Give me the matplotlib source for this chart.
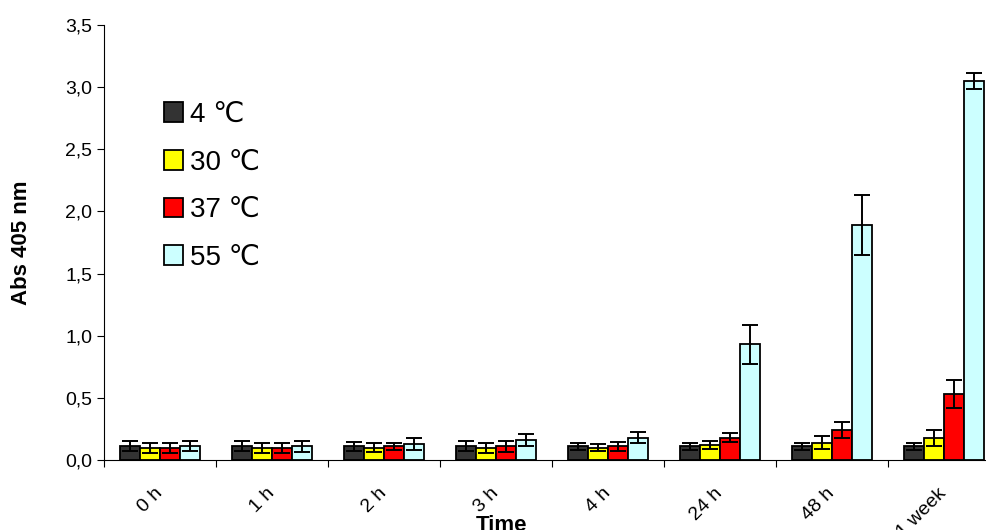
import numpy as np
import matplotlib.pyplot as plt
import matplotlib.transforms as mtrans

plt.rcParams['font.family'] = ['Liberation Sans', 'DejaVu Sans']

# data
times = ['0 h', '1 h', '2 h', '3 h', '4 h', '24 h', '48 h', '1 week']
temps = ['4 \u2103', '30 \u2103', '37 \u2103', '55 \u2103']
colors = ['#333333', '#ffff00', '#ff0000', '#ccffff']

abs_4 = [0.11, 0.11, 0.11, 0.11, 0.11, 0.11, 0.11, 0.11]
abs_30 = [0.10, 0.10, 0.10, 0.10, 0.10, 0.12, 0.14, 0.18]
abs_37 = [0.10, 0.10, 0.11, 0.11, 0.11, 0.18, 0.24, 0.53]
abs_55 = [0.11, 0.11, 0.13, 0.16, 0.18, 0.93, 1.89, 3.05]

err_4 = [0.04, 0.04, 0.035, 0.04, 0.03, 0.03, 0.03, 0.03]
err_30 = [0.04, 0.04, 0.035, 0.04, 0.03, 0.035, 0.05, 0.065]
err_37 = [0.04, 0.04, 0.03, 0.045, 0.035, 0.035, 0.065, 0.11]
err_55 = [0.04, 0.045, 0.05, 0.05, 0.045, 0.16, 0.24, 0.065]

series = [abs_4, abs_30, abs_37, abs_55]
errors = [err_4, err_30, err_37, err_55]

fig = plt.figure(figsize=(9.87, 5.30), dpi=100)
ax = fig.add_axes([104 / 987, 70 / 530, 896 / 987, 435 / 530])

x = np.arange(len(times))
w = 0.18
for i, (vals, errs) in enumerate(zip(series, errors)):
    pos = x + (i - 1.5) * w
    ax.bar(pos, vals, w, color=colors[i], edgecolor='black', linewidth=1.3,
           label=temps[i], zorder=2)
    ax.errorbar(pos, vals, yerr=errs, fmt='none', ecolor='black',
                elinewidth=1.4, capsize=6, capthick=1.4, zorder=3)

ax.set_xlim(-0.5, len(times) - 0.5)
ax.set_ylim(0, 3.5)
yt = np.arange(0, 3.51, 0.5)
ax.set_yticks(yt)
ax.set_yticklabels([f'{v:.1f}'.replace('.', ',') for v in yt], fontsize=14)

ax.set_xticks(np.arange(-0.5, len(times), 1.0))
ax.set_xticklabels([])
ax.set_xticks(x, minor=True)
ax.set_xticklabels(times, minor=True, rotation=45, ha='right', va='center',
                   rotation_mode='anchor', fontsize=14)
shift = mtrans.ScaledTranslation(-8 / 100, 0, fig.dpi_scale_trans)
for lab in ax.get_xticklabels(minor=True):
    lab.set_transform(lab.get_transform() + shift)
ax.tick_params(axis='x', which='minor', length=0, pad=22)
ax.tick_params(axis='x', which='major', length=5, direction='out')
ax.tick_params(axis='y', length=5, direction='out')

for s in ['top', 'right']:
    ax.spines[s].set_visible(False)

ax.set_ylabel('Abs 405 nm', fontsize=16, fontweight='bold')
ax.yaxis.set_label_coords(-72 / 896, 0.5)
fig.text(502 / 987, 1 - 515 / 530, 'Time', fontsize=16, fontweight='bold',
         ha='center', va='top')

leg = ax.legend(loc='upper left', bbox_to_anchor=(150 / 987, 1 - 88 / 530),
                bbox_transform=fig.transFigure, frameon=False, fontsize=20,
                handlelength=0.7, handleheight=0.7, handletextpad=0.25,
                labelspacing=0.78, borderpad=0)

fig.savefig('out.png', dpi=100)
